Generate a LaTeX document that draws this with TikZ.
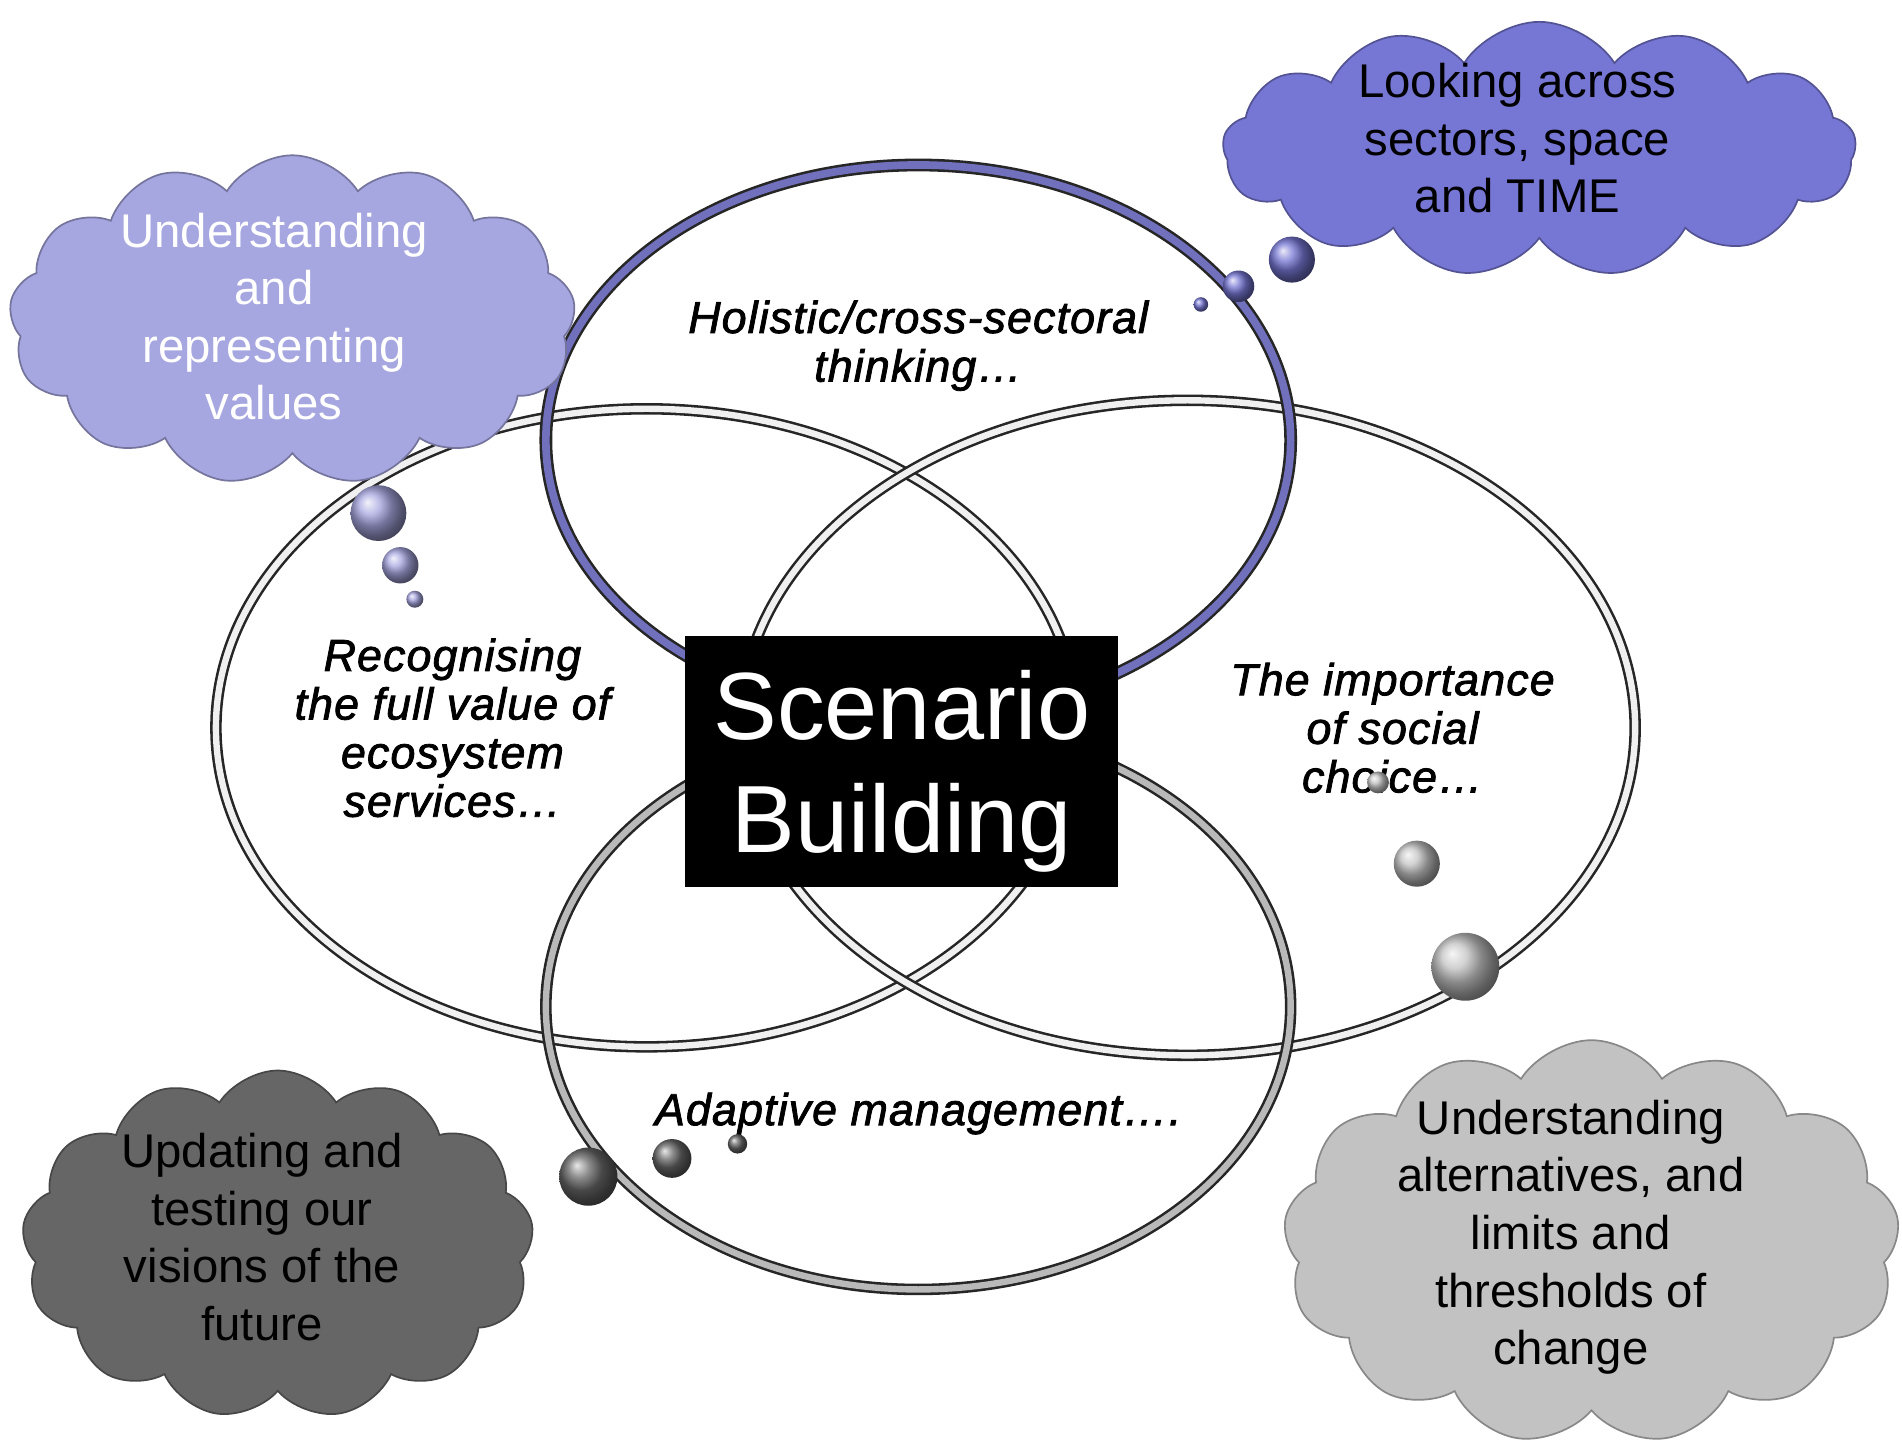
\documentclass[tikz,border=0pt]{standalone}
\usepackage{fontspec}
\setmainfont{Liberation Sans}
\newfontfamily\ovalfont[FakeBold=1.8,LetterSpace=2.5]{Liberation Sans}
\usepackage{tikz}
\usetikzlibrary{shapes.symbols}

\definecolor{lavcloud}{RGB}{166,166,224}
\definecolor{bluecloud}{RGB}{118,118,212}
\definecolor{darkcloud}{RGB}{102,102,102}
\definecolor{greycloud}{RGB}{194,194,194}
\definecolor{ringblue}{RGB}{112,112,188}

\tikzset{
  ring/.style={draw=black!85, double=#1, double distance=1.5pt, line width=0.6pt},
  thought/.style={cloud, cloud puffs=13, cloud puff arc=115, cloud ignores aspect,
    inner sep=0pt, draw=#1!70!black, fill=#1, line width=0.4pt},
  cloud text/.style={align=center, font=\fontsize{11.1}{13.5}\selectfont},
  oval text/.style={align=center, font=\ovalfont\itshape\fontsize{10.5}{11.4}\selectfont}
}

\begin{document}
\begin{tikzpicture}
  \useasboundingbox (0,0) rectangle (15.68,11.91);

  % the four rings
  \draw[ring=gray!12] (5.33,5.91) ellipse (3.55 and 2.63);
  \draw[ring=gray!12] (9.79,5.91) ellipse (3.69 and 2.70);
  \draw[ring=ringblue, double distance=1.8pt] (7.57,8.28) ellipse (3.07 and 2.27);
  \draw[ring=gray!55] (7.57,3.61) ellipse (3.07 and 2.33);

  \node[oval text] (holistic) at (7.57,9.06) {Holistic/cross-sectoral\\thinking…};
  \node[oval text] (ecosys) at (3.73,5.91) {Recognising\\the full value of\\ecosystem\\services…};
  \node[oval text] (social) at (11.48,5.91) {The importance\\of social\\choice…};
  \node[oval text] (adaptive) at (7.57,2.73) {Adaptive management….};

  % clouds
  \node[thought=lavcloud, minimum width=4.67cm, minimum height=2.72cm] (values) at (2.41,9.27) {};
  \node[cloud text, text=white] (valuestext) at (2.26,9.30) {Understanding\\and\\representing\\values};
  \node[thought=bluecloud, minimum width=5.22cm, minimum height=2.10cm] (across) at (12.69,10.68) {};
  \node[cloud text] (acrosstext) at (12.51,10.77) {Looking across\\sectors, space\\and TIME};
  \node[thought=darkcloud, minimum width=4.22cm, minimum height=2.87cm] (visions) at (2.29,1.65) {};
  \node[cloud text] (visionstext) at (2.16,1.71) {Updating and\\testing our\\visions of the\\future};
  \node[thought=greycloud, minimum width=5.08cm, minimum height=3.33cm] (limits) at (13.12,1.67) {};
  \node[cloud text] (limitstext) at (12.95,1.71) {Understanding\\alternatives, and\\limits and\\thresholds of\\change};

  % thought bubbles
  \shade[ball color=lavcloud] (3.12,7.68) circle (0.23);
  \shade[ball color=lavcloud] (3.30,7.25) circle (0.15);
  \shade[ball color=lavcloud] (3.42,6.97) circle (0.07);
  \shade[ball color=bluecloud] (10.65,9.77) circle (0.19);
  \shade[ball color=bluecloud] (10.21,9.55) circle (0.13);
  \shade[ball color=bluecloud] (9.90,9.40) circle (0.06);
  \shade[ball color=darkcloud] (4.85,2.21) circle (0.24);
  \shade[ball color=darkcloud] (5.54,2.36) circle (0.16);
  \shade[ball color=darkcloud] (6.08,2.48) circle (0.08);
  \shade[ball color=greycloud] (12.08,3.94) circle (0.28);
  \shade[ball color=greycloud] (11.68,4.79) circle (0.19);
  \shade[ball color=greycloud] (11.36,5.46) circle (0.09);

  % centre
  \node[fill=black, text=white, minimum width=3.57cm, minimum height=2.07cm, align=center,
    text depth=0pt, font=\fontsize{22.4}{26.5}\selectfont] (scenario) at (7.435,5.635) {Scenario\\Building};
\end{tikzpicture}
\end{document}
